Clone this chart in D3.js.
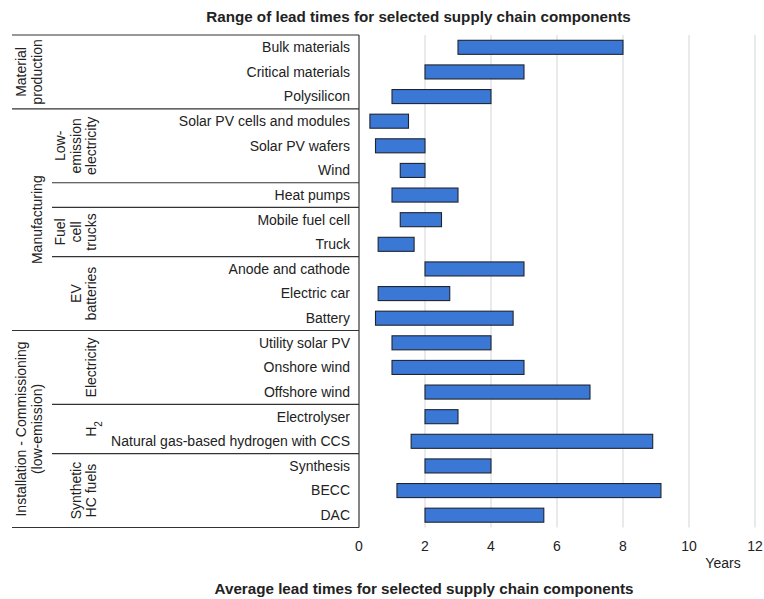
<!DOCTYPE html>
<html>
<head>
<meta charset="utf-8">
<script src="https://cdn.jsdelivr.net/npm/d3@7"></script>
<style>
  body { margin: 0; background: #fff; }
  svg text { font-family: "Liberation Sans", Arial, sans-serif; fill: #222; }
</style>
</head>
<body>
<svg id="chart" width="764" height="599"></svg>
<script>
// components, top to bottom
var components = ["Bulk materials", "Critical materials", "Polysilicon",
  "Solar PV cells and modules", "Solar PV wafers", "Wind", "Heat pumps",
  "Mobile fuel cell", "Truck", "Anode and cathode", "Electric car", "Battery",
  "Utility solar PV", "Onshore wind", "Offshore wind", "Electrolyser",
  "Natural gas-based hydrogen with CCS", "Synthesis", "BECC", "DAC"];
// range of lead times (years)
var minYears = [3, 2, 1, 0.33, 0.5, 1.25, 1, 1.25, 0.58, 2, 0.58, 0.5, 1, 1, 2, 2, 1.58, 2, 1.15, 2];
var maxYears = [8, 5, 4, 1.5, 2, 2, 3, 2.5, 1.67, 5, 2.75, 4.67, 4, 5, 7, 3, 8.9, 4, 9.15, 5.6];

// outer groups: label lines and number of rows
var groupLabels = [["Material", "production"], ["Manufacturing"], ["Installation - Commissioning", "(low-emission)"]];
var groupSizes = [3, 9, 8];
// inner groups
var subLabels = [[], ["Low-", "emission", "electricity"], [], ["Fuel", "cell", "trucks"], ["EV", "batteries"],
  ["Electricity"], ["H2"], ["Synthetic", "HC fuels"]];
var subSizes = [3, 3, 1, 2, 3, 3, 2, 3];

var xTicks = [0, 2, 4, 6, 8, 10, 12];

var FS = "14px";

var svg = d3.select("#chart");

var x = d3.scaleLinear().domain([0, 12]).range([359, 755]);
var y = d3.scaleBand().domain(components).range([35, 527.5]).paddingInner(0.43).paddingOuter(0.215);
var step = y.step();
var rowTop = function(i) { return 35 + i * step; };

// gridlines
svg.append("g").selectAll("line")
  .data(xTicks.filter(function(d) { return d > 0; }))
  .enter().append("line")
  .attr("x1", function(d) { return x(d); }).attr("x2", function(d) { return x(d); })
  .attr("y1", 35).attr("y2", 527.5)
  .attr("stroke", "#e3e3e3").attr("stroke-width", 1.5);

// bars
svg.append("g").selectAll("rect")
  .data(components)
  .enter().append("rect")
  .attr("x", function(d, i) { return x(minYears[i]); })
  .attr("width", function(d, i) { return x(maxYears[i]) - x(minYears[i]); })
  .attr("y", function(d) { return y(d); })
  .attr("height", y.bandwidth())
  .attr("fill", "#3b78d5")
  .attr("stroke", "#1f2530").attr("stroke-width", 1.1);

// row labels
svg.append("g").selectAll("text")
  .data(components)
  .enter().append("text")
  .attr("x", 350)
  .attr("y", function(d) { return y(d) + y.bandwidth() / 2; })
  .attr("dy", "0.35em")
  .attr("text-anchor", "end")
  .style("font-size", FS)
  .text(function(d) { return d; });

// frame lines
var lines = svg.append("g").attr("stroke", "#333").attr("stroke-width", 1.2);
lines.append("line").attr("x1", 359).attr("x2", 359).attr("y1", 35).attr("y2", 527.5);

var groupBounds = [0];
groupSizes.forEach(function(n, i) { groupBounds.push(groupBounds[i] + n); });
groupBounds.forEach(function(b) {
  lines.append("line").attr("x1", 12).attr("x2", 359).attr("y1", rowTop(b)).attr("y2", rowTop(b));
});

var subBounds = [0];
subSizes.forEach(function(n, i) { subBounds.push(subBounds[i] + n); });
subBounds.forEach(function(b) {
  if (groupBounds.indexOf(b) >= 0) return;
  lines.append("line").attr("x1", 52).attr("x2", 359).attr("y1", rowTop(b)).attr("y2", rowTop(b));
});

// rotated group labels
function rotatedLabel(lineArr, lastX, cy, gap) {
  if (!lineArr.length) return;
  var n = lineArr.length;
  var t = svg.append("text")
    .attr("transform", "translate(" + (lastX - gap * (n - 1)) + "," + cy + ") rotate(-90)")
    .attr("text-anchor", "middle")
    .style("font-size", FS);
  lineArr.forEach(function(s, i) {
    var ts = t.append("tspan").attr("x", 0).attr("y", i * gap).attr("dy", "0.35em");
    if (s === "H2") {
      ts.text("H");
      ts.append("tspan").attr("baseline-shift", "sub").style("font-size", "10px").text("2");
    } else {
      ts.text(s);
    }
  });
}

groupLabels.forEach(function(l, i) {
  var cy = (rowTop(groupBounds[i]) + rowTop(groupBounds[i + 1])) / 2;
  rotatedLabel(l, 37.5, cy, 16);
});
subLabels.forEach(function(l, i) {
  var cy = (rowTop(subBounds[i]) + rowTop(subBounds[i + 1])) / 2;
  rotatedLabel(l, 91.5, cy, 15.5);
});

// x axis labels
svg.append("g").selectAll("text")
  .data(xTicks)
  .enter().append("text")
  .attr("x", function(d) { return x(d); })
  .attr("y", 551)
  .attr("text-anchor", "middle")
  .style("font-size", FS)
  .text(function(d) { return d; });

svg.append("text").attr("x", 723).attr("y", 568).attr("text-anchor", "middle")
  .style("font-size", FS).text("Years");

// titles
svg.append("text").attr("x", 418.5).attr("y", 22).attr("text-anchor", "middle")
  .style("font-size", "15.2px").style("font-weight", "bold")
  .text("Range of lead times for selected supply chain components");
svg.append("text").attr("x", 424).attr("y", 594).attr("text-anchor", "middle")
  .style("font-size", "15.2px").style("font-weight", "bold")
  .text("Average lead times for selected supply chain components");
</script>
</body>
</html>
